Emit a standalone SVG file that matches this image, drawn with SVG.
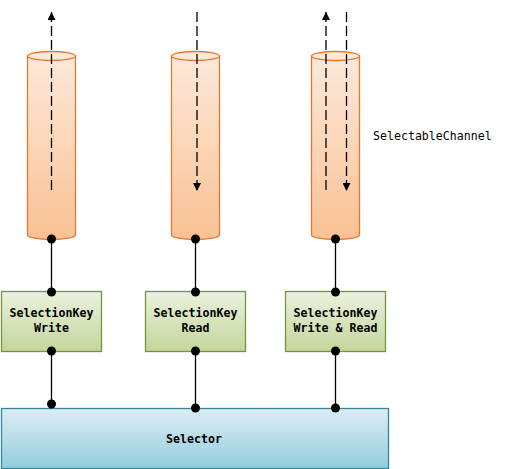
<svg xmlns="http://www.w3.org/2000/svg" width="514" height="469" viewBox="0 0 514 469">
<style>
.cyl{fill:url(#gCyl);stroke:#e8782a;stroke-width:1.3}
.cyltop{fill:#fde9d9;stroke:#e8782a;stroke-width:1.3}
.key{fill:url(#gKey);stroke:#77933c;stroke-width:1.3}
.sel{fill:url(#gSel);stroke:#31859c;stroke-width:1.3}
.link{stroke:#000;stroke-width:1.3;fill:none}
.dash{stroke:#000;stroke-width:1.3;fill:none;stroke-dasharray:10,4}
.dot{fill:#000}
.t{font-family:"DejaVu Sans Mono","Liberation Mono",monospace;font-size:11.6px;fill:#000}
.tb{font-weight:bold;text-anchor:middle}
</style>
<defs>
<linearGradient id="gCyl" x1="0" y1="0" x2="0" y2="1">
<stop offset="0" stop-color="#fde9d9"/>
<stop offset="1" stop-color="#f9c194"/>
</linearGradient>
<linearGradient id="gKey" x1="0" y1="0" x2="0" y2="1">
<stop offset="0" stop-color="#ebf1de"/>
<stop offset="1" stop-color="#c3d69b"/>
</linearGradient>
<linearGradient id="gSel" x1="0" y1="0" x2="0" y2="1">
<stop offset="0" stop-color="#dcedf3"/>
<stop offset="1" stop-color="#93cddd"/>
</linearGradient>
<marker id="arr" viewBox="0 0 10 10" refX="10" refY="5" markerWidth="8" markerHeight="8" markerUnits="userSpaceOnUse" orient="auto">
<path d="M0,0 L10,5 L0,10 z" fill="#000"/>
</marker>
</defs>

<g id="channel1">
<path class="cyl" d="M27.5,56 L27.5,235 A24,4.5 0 0 0 75.5,235 L75.5,56 Z"/>
<ellipse class="cyltop" cx="51.5" cy="56" rx="24" ry="4.5"/>
</g>
<g id="channel2">
<path class="cyl" d="M171.5,56 L171.5,235 A24,4.5 0 0 0 219.5,235 L219.5,56 Z"/>
<ellipse class="cyltop" cx="195.5" cy="56" rx="24" ry="4.5"/>
</g>
<g id="channel3">
<path class="cyl" d="M311.5,56 L311.5,235 A24,4.5 0 0 0 359.5,235 L359.5,56 Z"/>
<ellipse class="cyltop" cx="335.5" cy="56" rx="24" ry="4.5"/>
</g>
<g id="label-channel">
<text class="t" x="373" y="140">SelectableChannel</text>
</g>

<g id="key1">
<rect class="key" x="1.5" y="291.5" width="100" height="60"/>
<text class="t tb" x="51.5" y="317">SelectionKey</text>
<text class="t tb" x="51.5" y="332">Write</text>
</g>
<g id="key2">
<rect class="key" x="145.5" y="291.5" width="100" height="60"/>
<text class="t tb" x="195.5" y="317">SelectionKey</text>
<text class="t tb" x="195.5" y="332">Read</text>
</g>
<g id="key3">
<rect class="key" x="285.5" y="291.5" width="100" height="60"/>
<text class="t tb" x="335.5" y="317">SelectionKey</text>
<text class="t tb" x="335.5" y="332">Write &amp; Read</text>
</g>

<g id="selector">
<rect class="sel" x="1.5" y="408.5" width="387" height="60"/>
<text class="t tb" x="194" y="443">Selector</text>
</g>

<g id="connectors">
<path class="dash" d="M51.5,190 L51.5,12" marker-end="url(#arr)"/>
<path class="dash" d="M197,12 L197,191" marker-end="url(#arr)"/>
<path class="dash" d="M326,190 L326,12" marker-end="url(#arr)"/>
<path class="dash" d="M346.5,12 L346.5,191" marker-end="url(#arr)"/>
<path class="link" d="M51.5,239 L51.5,292 M195.5,239 L195.5,292 M335.5,239 L335.5,292"/>
<path class="link" d="M51.5,351 L51.5,404 M195.5,351 L195.5,408 M335.5,351 L335.5,408"/>
<circle class="dot" cx="51.5" cy="239" r="4.5"/>
<circle class="dot" cx="195.5" cy="239" r="4.5"/>
<circle class="dot" cx="335.5" cy="239" r="4.5"/>
<circle class="dot" cx="51.5" cy="292" r="4.5"/>
<circle class="dot" cx="195.5" cy="292" r="4.5"/>
<circle class="dot" cx="335.5" cy="292" r="4.5"/>
<circle class="dot" cx="51.5" cy="351" r="4.5"/>
<circle class="dot" cx="195.5" cy="351" r="4.5"/>
<circle class="dot" cx="335.5" cy="351" r="4.5"/>
<circle class="dot" cx="51.5" cy="404" r="4.5"/>
<circle class="dot" cx="195.5" cy="408" r="4.5"/>
<circle class="dot" cx="335.5" cy="408" r="4.5"/>
</g>
</svg>
